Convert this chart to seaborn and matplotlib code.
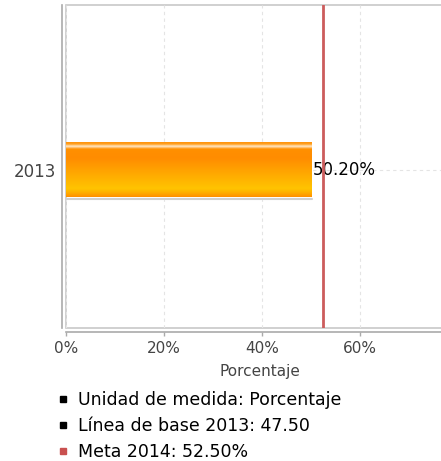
import numpy as np
import pandas as pd
import seaborn as sns
import matplotlib.pyplot as plt
from matplotlib.lines import Line2D
from matplotlib.colors import LinearSegmentedColormap

# data
years = ["2013"]
values = [50.20]
meta = 52.50
linea_base = 47.50
unidad = "Porcentaje"
xticks = [0, 20, 40, 60]
legend_labels = [f"Unidad de medida: {unidad}",
                 f"Línea de base 2013: {linea_base:.2f}",
                 f"Meta 2014: {meta:.2f}%"]
legend_colors = ["black", "black", "#c9504f"]

sns.set_style("white")
plt.rcParams['font.family'] = ['DejaVu Sans']

df = pd.DataFrame({"year": years, "value": values})

fig = plt.figure(figsize=(4.41, 4.61), dpi=100)
ax = fig.add_axes([66 / 441, 1 - 328 / 461, 388 / 441, 323 / 461])

sns.barplot(data=df, x="value", y="year", orient="h", width=0.167,
            color="#ff9900", ax=ax, zorder=2)
ax.set_xlim(0, 79.2)

# gradient fill inside the bar
grad = LinearSegmentedColormap.from_list("g", [
    (0.0, "#ff8c00"), (0.05, "#ffa020"), (0.09, "#ffe8c8"), (0.14, "#ff9000"),
    (0.30, "#ff8c00"), (0.85, "#ffc400"), (0.92, "#ffb000"), (1.0, "#ff9000")])
for p in ax.patches:
    x0, y0 = p.get_x(), p.get_y()
    w, h = p.get_width(), p.get_height()
    img = ax.imshow(np.linspace(0, 1, 200).reshape(-1, 1), cmap=grad, aspect="auto",
                    extent=[x0, x0 + w, y0 + h, y0], zorder=3)
    img.set_clip_path(p)
    p.set_edgecolor("none")
    # soft shadow under the bar
    ax.plot([x0, x0 + w], [y0 + h + 0.006, y0 + h + 0.006], color="#d0d0d0", lw=1.5, zorder=1)
    ax.text(x0 + w + 0.2, y0 + h / 2, f"{w:.2f}%", va="center", ha="left",
            fontsize=12, color="black", zorder=4)
ax.set_ylim(0.48, -0.5)

ax.axvline(meta, color="#cc5c5c", lw=2, zorder=4)

# grid
ax.set_xticks(xticks)
ax.set_xticklabels([f"{t}%" for t in xticks])
ax.grid(True, axis="both", color="#e4e4e4", ls=(0, (3, 3)), lw=0.8, zorder=0)
ax.set_axisbelow(True)

# frame
ax.patch.set_edgecolor("#c8c8c8")
ax.patch.set_linewidth(1.2)
for s in ["top", "right"]:
    ax.spines[s].set_visible(False)
ax.spines["left"].set_position(("outward", 3))
ax.spines["bottom"].set_position(("outward", 3))
for s in ["left", "bottom"]:
    ax.spines[s].set_color("#aaaaaa")
    ax.spines[s].set_linewidth(1.2)
ax.spines["left"].set_bounds(0.48, -0.5)

ax.tick_params(axis="x", colors="#aaaaaa", length=3, width=1, labelsize=11,
               labelcolor="#444444", pad=3, direction="out", bottom=True)
ax.tick_params(axis="y", length=0, labelsize=12, labelcolor="#444444", pad=4)
ax.set_ylabel("")
ax.set_xlabel("Porcentaje", fontsize=11, color="#444444", labelpad=6)

handles = [Line2D([], [], ls="none", marker="s", markersize=4, color=c) for c in legend_colors]
fig.legend(handles, legend_labels, loc="upper left", bbox_to_anchor=(58 / 441, 1 - 391 / 461),
           frameon=False, fontsize=12.5, handlelength=0.6, handletextpad=0.55,
           labelspacing=0.47, borderaxespad=0, borderpad=0, labelcolor="black")

fig.savefig("out.png", dpi=100)
